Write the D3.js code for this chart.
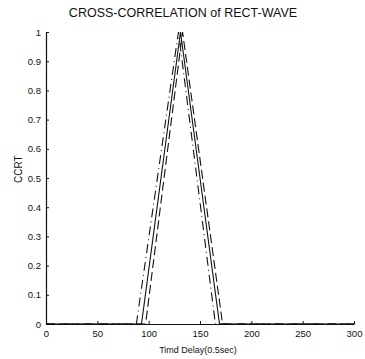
<!DOCTYPE html>
<html>
<head>
<meta charset="utf-8">
<script src="https://d3js.org/d3.v7.min.js"></script>
<style>
  body { margin: 0; background: #fff; }
  text { font-family: "Liberation Sans", Arial, sans-serif; fill: #111; }
</style>
</head>
<body>
<div id="chart"></div>
<script>
// cross-correlation curves: [delay, value] corner points of each triangle
var solidCurve = [[0, 0], [93, 0], [131, 1], [169, 0], [300, 0]];
var leftCurve = [[0, 0], [88, 0], [129, 1], [165, 0], [300, 0]];
var rightCurve = [[0, 0], [97, 0], [133, 1], [172, 0], [300, 0]];

var xTicks = [0, 50, 100, 150, 200, 250, 300];
var yTicks = [0, 0.1, 0.2, 0.3, 0.4, 0.5, 0.6, 0.7, 0.8, 0.9, 1];
var yTickLabels = ["0", "0.1", "0.2", "0.3", "0.4", "0.5", "0.6", "0.7", "0.8", "0.9", "1"];

var width = 365, height = 359;
var margin = {top: 32, right: 11, bottom: 35, left: 46};

var svg = d3.select("#chart").append("svg")
    .attr("width", width)
    .attr("height", height);

var x = d3.scaleLinear().domain([0, 300]).range([margin.left, width - margin.right]);
var y = d3.scaleLinear().domain([0, 1]).range([height - margin.bottom, margin.top]);

var line = d3.line()
    .x(function(d) { return x(d[0]); })
    .y(function(d) { return y(d[1]); });

// axes (ticks point inward like the original)
var xAxis = svg.append("g")
    .attr("transform", "translate(0," + y(0) + ")")
    .call(d3.axisBottom(x).tickValues(xTicks).tickSize(-3).tickPadding(6).tickSizeOuter(0));

var yAxis = svg.append("g")
    .attr("transform", "translate(" + x(0) + ",0)")
    .call(d3.axisLeft(y).tickValues(yTicks).tickSize(-3).tickPadding(5).tickSizeOuter(0)
      .tickFormat(function(d, i) { return yTickLabels[i]; }));

[xAxis, yAxis].forEach(function(g) {
  g.select(".domain").attr("stroke", "#111").attr("stroke-width", 1.2);
  g.selectAll(".tick line").attr("stroke", "#111");
  g.selectAll("text").style("font-size", "9.5px");
});

// curves
svg.append("path").datum(leftCurve)
    .attr("d", line)
    .attr("fill", "none")
    .attr("stroke", "#111")
    .attr("stroke-width", 1.1)
    .attr("stroke-dasharray", "9,4,1,4");

svg.append("path").datum(rightCurve)
    .attr("d", line)
    .attr("fill", "none")
    .attr("stroke", "#111")
    .attr("stroke-width", 1.1)
    .attr("stroke-dasharray", "9,4");

svg.append("path").datum(solidCurve)
    .attr("d", line)
    .attr("fill", "none")
    .attr("stroke", "#111")
    .attr("stroke-width", 1.1);

// labels
svg.append("text")
    .attr("x", 183).attr("y", 17)
    .attr("text-anchor", "middle")
    .style("font-size", "12.5px")
    .text("CROSS-CORRELATION of RECT-WAVE");

svg.append("text")
    .attr("transform", "translate(22," + y(0.53) + ") rotate(-90)")
    .attr("text-anchor", "middle")
    .style("font-size", "10px")
    .text("CCRT");

svg.append("text")
    .attr("x", 198).attr("y", 353)
    .attr("text-anchor", "middle")
    .style("font-size", "9px")
    .text("Timd Delay(0.5sec)");
</script>
</body>
</html>
